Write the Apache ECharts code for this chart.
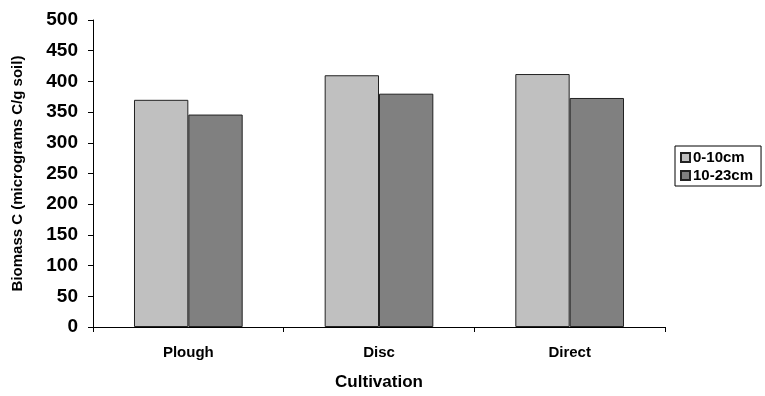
<!DOCTYPE html>
<html><head><meta charset="utf-8">
<script src="https://cdn.jsdelivr.net/npm/echarts@6/dist/echarts.min.js"></script>
<style>html,body{margin:0;padding:0;background:#fff}#c{width:765px;height:396px}</style>
</head><body><div id="c"></div>
<script>
var categories = ['Plough', 'Disc', 'Direct'];
var seriesNames = ['0-10cm', '10-23cm'];
var shallow = [370, 410, 412];
var deep = [346, 380, 373];
var yTicks = [0, 50, 100, 150, 200, 250, 300, 350, 400, 450, 500];

var FONT = '"Liberation Sans", Arial, sans-serif';
var chart = echarts.init(document.getElementById('c'), null, {renderer: 'canvas'});
chart.setOption({
  animation: false,
  backgroundColor: '#fff',
  textStyle: {fontFamily: FONT},
  grid: {left: 93, right: 100, top: 20, bottom: 69, containLabel: false, outerBoundsMode: 'none'},
  legend: {
    orient: 'vertical', left: 675, top: 146,
    data: seriesNames,
    borderColor: '#000', borderWidth: 1, borderRadius: 0,
    padding: [4, 8, 3, 5], itemWidth: 9, itemHeight: 9, itemGap: 3,
    icon: 'rect',
    textStyle: {fontFamily: FONT, fontWeight: 'bold', fontSize: 15, color: '#000', padding: [0,0,0,-2]}
  },
  xAxis: {
    type: 'category', data: categories,
    name: 'Cultivation', nameLocation: 'middle', nameGap: 47,
    nameTextStyle: {fontFamily: FONT, fontWeight: 'bold', fontSize: 17, color: '#000'},
    axisLine: {lineStyle: {color: '#000', width: 1}},
    axisTick: {show: true, length: 5, alignWithLabel: false, lineStyle: {color: '#000'}},
    axisLabel: {fontFamily: FONT, fontWeight: 'bold', fontSize: 15, color: '#000', margin: 18}
  },
  yAxis: {
    type: 'value', min: yTicks[0], max: yTicks[yTicks.length - 1], interval: 50,
    name: 'Biomass C (micrograms C/g soil)', nameLocation: 'middle', nameGap: 68,
    nameTextStyle: {fontFamily: FONT, fontWeight: 'bold', fontSize: 15, color: '#000'},
    axisLine: {show: true, lineStyle: {color: '#000', width: 1}},
    axisTick: {show: true, length: 5, lineStyle: {color: '#000'}},
    splitLine: {show: false},
    axisLabel: {fontFamily: FONT, fontWeight: 'bold', fontSize: 19, color: '#000', margin: 15}
  },
  series: [
    {name: seriesNames[0], type: 'bar', data: shallow, barGap: '0%', barCategoryGap: '43%',
     itemStyle: {color: '#C0C0C0', borderColor: '#222', borderWidth: 1}},
    {name: seriesNames[1], type: 'bar', data: deep, barGap: '0%', barCategoryGap: '43%',
     itemStyle: {color: '#808080', borderColor: '#222', borderWidth: 1}}
  ]
});
</script></body></html>
